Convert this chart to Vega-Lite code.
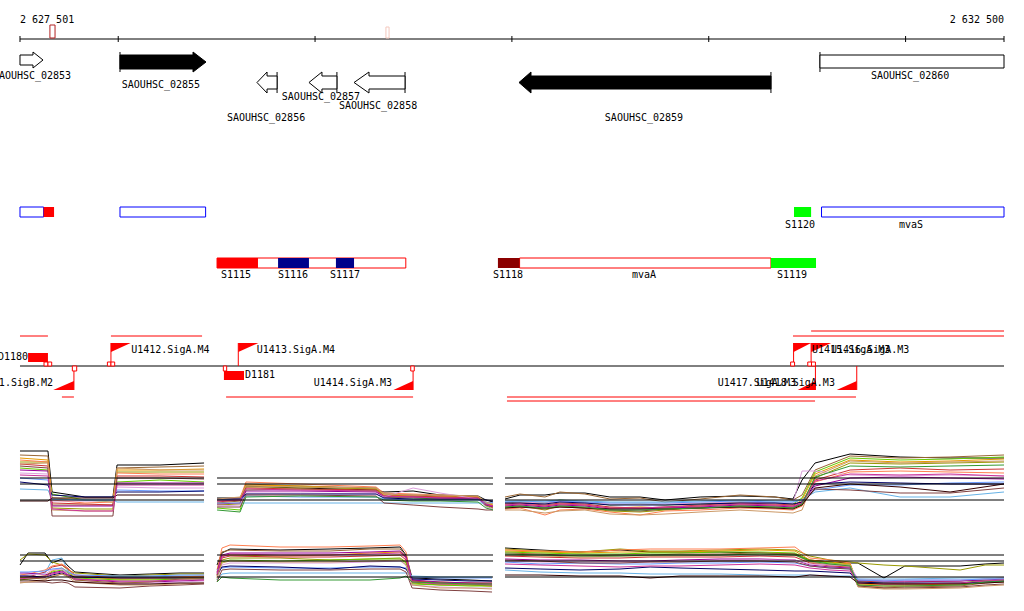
{
"$schema": "https://vega.github.io/schema/vega-lite/v6.json",
"width": 1024, "height": 611, "padding": 0,
"autosize": {"type": "fit", "contains": "padding"},
"background": "white",
"config": {"view": {"stroke": null}},
"datasets": {
"r1p1": [
{"s":"s1","2627501":7.9,"2627643":7.9,"2627664":3.8,"2627831":3.3,"2627973":3.3,"2627994":6.5,"2628212":6.5,"2628436":6.7},
{"s":"s2","2627501":7.5,"2627643":7.4,"2627664":2.5,"2627831":2.5,"2627973":2.5,"2627994":6.2,"2628212":6.3,"2628436":6.4},
{"s":"s3","2627501":7.2,"2627643":7.0,"2627664":3.2,"2627831":3.0,"2627973":3.0,"2627994":6.0,"2628212":6.0,"2628436":6.1},
{"s":"s4","2627501":6.8,"2627643":6.8,"2627664":2.2,"2627831":2.1,"2627973":2.1,"2627994":5.8,"2628212":5.8,"2628436":5.8},
{"s":"s5","2627501":6.2,"2627643":6.0,"2627664":3.6,"2627831":3.0,"2627973":2.8,"2627994":4.8,"2628212":5.0,"2628436":4.8},
{"s":"s6","2627501":6.6,"2627643":6.4,"2627664":2.7,"2627831":2.6,"2627973":2.5,"2627994":5.4,"2628212":5.4,"2628436":5.3},
{"s":"s7","2627501":7.0,"2627643":6.8,"2627664":3.0,"2627831":2.7,"2627973":2.8,"2627994":5.7,"2628212":5.6,"2628436":5.6},
{"s":"s8","2627501":6.0,"2627643":5.9,"2627664":2.4,"2627831":2.4,"2627973":2.4,"2627994":4.7,"2628212":4.7,"2628436":4.7},
{"s":"s9","2627501":5.7,"2627643":5.6,"2627664":2.9,"2627831":2.9,"2627973":2.9,"2627994":4.3,"2628212":4.2,"2628436":4.2},
{"s":"s10","2627501":5.2,"2627643":5.0,"2627664":3.1,"2627831":3.0,"2627973":3.0,"2627994":4.0,"2628212":3.9,"2628436":3.9},
{"s":"s11","2627501":4.8,"2627643":4.5,"2627664":3.5,"2627831":3.3,"2627973":3.3,"2627994":3.8,"2628212":3.8,"2628436":3.9},
{"s":"s12","2627501":4.1,"2627643":4.0,"2627664":3.1,"2627831":3.0,"2627973":3.0,"2627994":2.8,"2628212":2.8,"2628436":2.8},
{"s":"s13","2627501":6.4,"2627643":6.2,"2627664":1.4,"2627831":1.4,"2627973":1.4,"2627994":5.2,"2628212":5.2,"2628436":5.1},
{"s":"s14","2627501":6.6,"2627643":6.7,"2627664":2.0,"2627831":1.9,"2627973":1.9,"2627994":6.2,"2628212":6.0,"2628436":6.0},
{"s":"s15","2627501":2.9,"2627643":2.9,"2627664":3.2,"2627831":3.2,"2627973":3.2,"2627994":3.5,"2628212":3.5,"2628436":3.5},
{"s":"s16","2627501":5.5,"2627643":5.4,"2627664":2.1,"2627831":1.9,"2627973":1.9,"2627994":4.5,"2628212":4.5,"2628436":4.5}
],
"r1p2": [
{"s":"s1","2628502":3.2,"2628619":3.2,"2628649":4.4,"2628924":4.2,"2629310":4.0,"2629350":3.8,"2629498":3.9,"2629635":3.5,"2629828":3.4,"2629868":3.0,"2629904":2.8},
{"s":"s7","2628502":3.0,"2628619":3.2,"2628649":4.8,"2628924":4.6,"2629310":4.3,"2629350":3.7,"2629498":3.6,"2629635":3.5,"2629828":3.3,"2629868":2.5,"2629904":2.3},
{"s":"s2","2628502":2.7,"2628619":2.9,"2628649":4.6,"2628924":4.4,"2629310":4.2,"2629350":3.6,"2629498":3.5,"2629635":3.4,"2629828":3.3,"2629868":2.6,"2629904":2.4},
{"s":"s3","2628502":3.0,"2628619":3.1,"2628649":4.5,"2628924":4.4,"2629310":4.1,"2629350":3.5,"2629498":3.4,"2629635":3.3,"2629828":3.3,"2629868":2.7,"2629904":2.5},
{"s":"s4","2628502":2.5,"2628619":2.6,"2628649":4.3,"2628924":4.3,"2629310":4.1,"2629350":3.4,"2629498":3.3,"2629635":3.2,"2629828":3.2,"2629868":2.5,"2629904":2.2},
{"s":"s5","2628502":2.2,"2628619":2.0,"2628649":4.0,"2628924":4.1,"2629310":3.9,"2629350":3.3,"2629498":3.2,"2629635":3.1,"2629828":3.1,"2629868":2.4,"2629904":2.1},
{"s":"s6","2628502":2.8,"2628619":3.0,"2628649":4.2,"2628924":4.1,"2629310":4.0,"2629350":3.4,"2629498":3.4,"2629635":3.3,"2629828":3.2,"2629868":2.6,"2629904":2.4},
{"s":"s8","2628502":2.6,"2628619":2.7,"2628649":3.9,"2628924":3.9,"2629310":3.8,"2629350":3.3,"2629498":3.3,"2629635":3.2,"2629828":3.1,"2629868":2.5,"2629904":2.3},
{"s":"s9","2628502":2.4,"2628619":2.5,"2628649":3.7,"2628924":3.7,"2629310":3.6,"2629350":3.3,"2629498":4.2,"2629635":3.7,"2629828":3.1,"2629868":2.3,"2629904":2.1},
{"s":"s10","2628502":3.0,"2628619":3.1,"2628649":3.4,"2628924":3.3,"2629310":3.3,"2629350":3.1,"2629498":3.0,"2629635":3.0,"2629828":3.0,"2629868":2.8,"2629904":2.7},
{"s":"s11","2628502":3.1,"2628619":3.1,"2628649":3.6,"2628924":3.6,"2629310":3.6,"2629350":3.2,"2629498":3.1,"2629635":3.1,"2629828":3.1,"2629868":3.0,"2629904":2.9},
{"s":"s12","2628502":2.7,"2628619":2.7,"2628649":2.7,"2628924":2.7,"2629310":2.7,"2629350":2.7,"2629498":2.7,"2629635":2.7,"2629828":2.7,"2629868":2.7,"2629904":2.7},
{"s":"s13","2628502":2.3,"2628619":2.3,"2628649":3.5,"2628924":3.5,"2629310":3.4,"2629350":2.7,"2629498":2.5,"2629635":2.3,"2629828":2.1,"2629868":2.0,"2629904":2.0},
{"s":"s14","2628502":3.1,"2628619":3.3,"2628649":4.4,"2628924":4.3,"2629310":4.2,"2629350":3.6,"2629498":3.5,"2629635":3.5,"2629828":3.4,"2629868":2.8,"2629904":2.6},
{"s":"s16","2628502":2.9,"2628619":3.0,"2628649":4.1,"2628924":4.0,"2629310":3.9,"2629350":3.4,"2629498":3.3,"2629635":3.2,"2629828":3.2,"2629868":2.6,"2629904":2.4},
{"s":"s17","2628502":2.0,"2628619":1.8,"2628649":3.3,"2628924":3.4,"2629310":3.3,"2629350":3.0,"2629498":2.9,"2629635":2.9,"2629828":2.8,"2629868":2.2,"2629904":2.0}
],
"r1p3": [
{"s":"s1","2629965":3.1,"2630041":3.5,"2630168":3.5,"2630244":3.7,"2630371":3.7,"2630498":3.3,"2630651":3.3,"2630778":3.0,"2630956":3.3,"2631159":3.4,"2631337":3.3,"2631428":3.1,"2631474":5.0,"2631540":6.7,"2631718":7.6,"2631972":7.3,"2632226":7.2,"2632500":7.2},
{"s":"s2","2629965":3.3,"2630041":3.6,"2630168":3.3,"2630244":3.8,"2630371":3.6,"2630498":3.1,"2630651":3.2,"2630778":2.8,"2630956":3.1,"2631159":3.5,"2631337":3.3,"2631428":3.0,"2631474":3.5,"2631540":6.0,"2631718":7.4,"2631972":7.2,"2632226":7.3,"2632500":7.5},
{"s":"s5","2629965":2.7,"2630041":2.8,"2630168":2.7,"2630244":3.0,"2630371":2.8,"2630498":2.5,"2630651":2.6,"2630778":2.5,"2630956":2.6,"2631159":2.8,"2631337":2.7,"2631428":2.6,"2631474":3.2,"2631540":5.8,"2631718":7.2,"2631972":7.0,"2632226":7.1,"2632500":7.3},
{"s":"s3","2629965":2.5,"2630041":2.6,"2630168":2.4,"2630244":2.6,"2630371":2.5,"2630498":2.2,"2630651":2.3,"2630778":2.2,"2630956":2.4,"2631159":2.6,"2631337":2.5,"2631428":2.4,"2631474":3.0,"2631540":5.6,"2631718":7.0,"2631972":6.8,"2632226":6.9,"2632500":7.1},
{"s":"s4","2629965":2.3,"2630041":2.4,"2630168":2.0,"2630244":2.4,"2630371":2.2,"2630498":1.9,"2630651":1.8,"2630778":2.0,"2630956":2.2,"2631159":2.4,"2631337":2.3,"2631428":2.2,"2631474":2.5,"2631540":5.2,"2631718":6.7,"2631972":6.6,"2632226":6.7,"2632500":6.8},
{"s":"s6","2629965":2.6,"2630041":2.7,"2630168":2.5,"2630244":2.7,"2630371":2.6,"2630498":2.3,"2630651":2.2,"2630778":2.3,"2630956":2.5,"2631159":2.7,"2631337":2.6,"2631428":2.5,"2631474":2.8,"2631540":5.0,"2631718":6.0,"2631972":6.2,"2632226":6.0,"2632500":6.1},
{"s":"s7","2629965":2.1,"2630041":2.2,"2630168":1.5,"2630244":2.0,"2630371":2.1,"2630498":1.8,"2630651":1.5,"2630778":1.9,"2630956":2.0,"2631159":2.2,"2631337":2.1,"2631428":2.0,"2631474":2.4,"2631540":4.8,"2631718":5.8,"2631972":5.9,"2632226":5.8,"2632500":5.7},
{"s":"s8","2629965":2.4,"2630041":2.5,"2630168":2.3,"2630244":2.5,"2630371":2.4,"2630498":2.1,"2630651":2.1,"2630778":2.2,"2630956":2.3,"2631159":2.5,"2631337":2.4,"2631428":2.3,"2631474":2.7,"2631540":4.4,"2631718":5.2,"2631972":5.3,"2632226":5.2,"2632500":5.1},
{"s":"s9","2629965":2.8,"2630041":2.8,"2630168":2.7,"2630244":2.9,"2630371":2.8,"2630498":2.6,"2630651":2.6,"2630778":2.6,"2630956":2.7,"2631159":2.8,"2631337":2.7,"2631428":2.7,"2631474":5.9,"2631540":5.9,"2631718":5.5,"2631972":5.4,"2632226":5.5,"2632500":5.4},
{"s":"s10","2629965":2.8,"2630041":2.9,"2630168":2.8,"2630244":2.9,"2630371":2.8,"2630498":2.7,"2630651":2.7,"2630778":2.7,"2630956":2.8,"2631159":2.9,"2631337":2.8,"2631428":2.8,"2631474":3.0,"2631540":4.0,"2631718":4.5,"2631972":4.5,"2632226":4.7,"2632500":4.8},
{"s":"s11","2629965":2.7,"2630041":2.7,"2630168":2.6,"2630244":2.8,"2630371":2.7,"2630498":2.5,"2630651":2.5,"2630778":2.5,"2630956":2.6,"2631159":2.7,"2631337":2.7,"2631428":2.6,"2631474":2.8,"2631540":4.6,"2631718":4.8,"2631972":4.7,"2632226":4.6,"2632500":4.6},
{"s":"s12","2629965":2.9,"2630041":2.9,"2630168":2.9,"2630244":3.0,"2630371":2.9,"2630498":2.8,"2630651":2.8,"2630778":2.8,"2630956":2.9,"2631159":3.0,"2631337":2.9,"2631428":2.9,"2631474":3.0,"2631540":3.8,"2631718":4.2,"2631972":3.3,"2632226":3.3,"2632500":3.8},
{"s":"s13","2629965":2.2,"2630041":2.3,"2630168":2.1,"2630244":2.3,"2630371":2.2,"2630498":2.0,"2630651":1.9,"2630778":2.1,"2630956":2.2,"2631159":2.3,"2631337":2.2,"2631428":2.2,"2631474":2.6,"2631540":4.1,"2631718":4.0,"2631972":3.7,"2632226":3.7,"2632500":4.2},
{"s":"s14","2629965":2.0,"2630041":2.0,"2630168":1.7,"2630244":1.9,"2630371":2.0,"2630498":1.6,"2630651":1.5,"2630778":1.6,"2630956":1.8,"2631159":2.0,"2631337":1.8,"2631428":1.7,"2631474":2.0,"2631540":5.4,"2631718":6.9,"2631972":6.7,"2632226":6.8,"2632500":6.9},
{"s":"s16","2629965":2.5,"2630041":2.6,"2630168":2.4,"2630244":2.6,"2630371":2.5,"2630498":2.2,"2630651":2.2,"2630778":2.3,"2630956":2.4,"2631159":2.6,"2631337":2.5,"2631428":2.4,"2631474":2.7,"2631540":4.9,"2631718":5.6,"2631972":5.5,"2632226":5.6,"2632500":5.4},
{"s":"s15","2629965":2.2,"2630041":2.3,"2630168":2.2,"2630244":2.3,"2630371":2.2,"2630498":2.1,"2630651":2.1,"2630778":2.1,"2630956":2.2,"2631159":2.3,"2631337":2.2,"2631428":2.1,"2631474":2.5,"2631540":4.2,"2631718":4.6,"2631972":4.3,"2632226":3.8,"2632500":4.6},
{"s":"s17","2629965":2.3,"2630041":2.4,"2630168":2.2,"2630244":2.4,"2630371":2.3,"2630498":2.0,"2630651":2.0,"2630778":2.1,"2630956":2.2,"2631159":2.4,"2631337":2.3,"2631428":2.2,"2631474":2.6,"2631540":5.3,"2631718":6.4,"2631972":6.3,"2632226":6.4,"2632500":6.5}
],
"r2p1": [
{"s":"s1","2627501":4.2,"2627542":5.4,"2627628":5.4,"2627664":4.4,"2627714":4.8,"2627745":4.1,"2627780":3.5,"2628009":3.2,"2628161":3.3,"2628314":3.4,"2628436":3.4},
{"s":"s4","2627501":4.7,"2627542":5.3,"2627628":5.2,"2627664":4.5,"2627714":4.2,"2627745":3.7,"2627780":3.4,"2628009":3.1,"2628161":3.2,"2628314":3.3,"2628436":3.3},
{"s":"s12","2627501":3.2,"2627542":3.3,"2627628":3.4,"2627664":4.7,"2627714":4.9,"2627745":3.6,"2627780":3.1,"2628009":3.0,"2628161":3.0,"2628314":3.1,"2628436":3.1},
{"s":"s6","2627501":2.9,"2627542":3.0,"2627628":3.5,"2627664":4.0,"2627714":4.2,"2627745":3.8,"2627780":3.2,"2628009":2.9,"2628161":2.9,"2628314":3.0,"2628436":3.0},
{"s":"s7","2627501":3.2,"2627542":3.3,"2627628":3.7,"2627664":4.1,"2627714":4.3,"2627745":3.9,"2627780":3.1,"2628009":2.8,"2628161":2.9,"2628314":3.0,"2628436":3.1},
{"s":"s3","2627501":2.9,"2627542":3.0,"2627628":3.1,"2627664":3.6,"2627714":3.9,"2627745":3.5,"2627780":3.0,"2628009":2.8,"2628161":2.8,"2628314":2.9,"2628436":3.0},
{"s":"s5","2627501":2.7,"2627542":2.8,"2627628":3.0,"2627664":3.5,"2627714":3.7,"2627745":3.4,"2627780":2.9,"2628009":2.7,"2628161":2.7,"2628314":2.8,"2628436":2.8},
{"s":"s8","2627501":3.4,"2627542":3.4,"2627628":3.2,"2627664":3.4,"2627714":3.6,"2627745":3.3,"2627780":2.8,"2628009":2.5,"2628161":2.5,"2628314":2.6,"2628436":2.7},
{"s":"s9","2627501":3.1,"2627542":3.2,"2627628":3.3,"2627664":3.7,"2627714":3.8,"2627745":3.3,"2627780":2.7,"2628009":2.3,"2628161":2.4,"2628314":2.5,"2628436":2.6},
{"s":"s10","2627501":3.5,"2627542":3.5,"2627628":3.6,"2627664":3.8,"2627714":3.9,"2627745":3.5,"2627780":3.2,"2628009":3.1,"2628161":3.1,"2628314":3.2,"2628436":3.2},
{"s":"s11","2627501":3.1,"2627542":3.1,"2627628":3.0,"2627664":3.2,"2627714":3.4,"2627745":3.2,"2627780":3.0,"2628009":2.9,"2628161":2.9,"2628314":2.9,"2628436":2.9},
{"s":"s13","2627501":2.5,"2627542":2.5,"2627628":2.5,"2627664":2.4,"2627714":2.5,"2627745":2.4,"2627780":2.0,"2628009":1.9,"2628161":2.1,"2628314":2.2,"2628436":2.3},
{"s":"s2","2627501":2.9,"2627542":2.9,"2627628":2.8,"2627664":3.0,"2627714":3.3,"2627745":3.1,"2627780":2.7,"2628009":2.4,"2628161":2.5,"2628314":2.8,"2628436":2.9},
{"s":"s14","2627501":2.4,"2627542":2.5,"2627628":2.7,"2627664":3.1,"2627714":3.3,"2627745":3.0,"2627780":2.5,"2628009":2.2,"2628161":2.2,"2628314":2.3,"2628436":2.4},
{"s":"s16","2627501":2.8,"2627542":2.9,"2627628":3.0,"2627664":3.3,"2627714":3.5,"2627745":3.2,"2627780":2.8,"2628009":2.6,"2628161":2.6,"2628314":2.7,"2628436":2.7},
{"s":"s15","2627501":2.7,"2627542":2.7,"2627628":2.6,"2627664":2.7,"2627714":2.7,"2627745":2.6,"2627780":2.5,"2628009":2.3,"2628161":2.3,"2628314":2.4,"2628436":2.4}
],
"r2p2": [
{"s":"s1","2628502":4.2,"2628527":5.4,"2628568":5.8,"2628822":5.7,"2629076":5.8,"2629279":5.9,"2629432":6.0,"2629462":5.2,"2629493":2.9,"2629635":2.8,"2629787":2.7,"2629899":2.6},
{"s":"s7","2628502":3.7,"2628527":5.9,"2628568":6.2,"2628822":6.0,"2629076":6.0,"2629279":6.1,"2629432":6.2,"2629462":5.5,"2629493":2.5,"2629635":2.3,"2629787":2.2,"2629899":2.1},
{"s":"s2","2628502":3.5,"2628527":5.5,"2628568":5.7,"2628822":5.6,"2629076":5.6,"2629279":5.8,"2629432":5.8,"2629462":5.1,"2629493":2.7,"2629635":2.4,"2629787":2.3,"2629899":2.2},
{"s":"s3","2628502":3.2,"2628527":5.1,"2628568":5.2,"2628822":5.1,"2629076":5.2,"2629279":5.4,"2629432":5.5,"2629462":4.9,"2629493":2.6,"2629635":2.5,"2629787":2.4,"2629899":2.4},
{"s":"s4","2628502":2.9,"2628527":4.7,"2628568":4.9,"2628822":4.9,"2629076":4.7,"2629279":4.8,"2629432":4.9,"2629462":4.5,"2629493":2.4,"2629635":2.2,"2629787":2.2,"2629899":2.1},
{"s":"s5","2628502":2.7,"2628527":4.5,"2628568":4.7,"2628822":4.6,"2629076":4.7,"2629279":4.8,"2629432":4.8,"2629462":4.4,"2629493":2.3,"2629635":2.2,"2629787":2.1,"2629899":2.1},
{"s":"s6","2628502":3.1,"2628527":4.9,"2628568":5.1,"2628822":5.0,"2629076":5.0,"2629279":5.1,"2629432":5.2,"2629462":4.7,"2629493":2.6,"2629635":2.4,"2629787":2.4,"2629899":2.3},
{"s":"s8","2628502":3.4,"2628527":5.2,"2628568":5.4,"2628822":5.4,"2629076":5.4,"2629279":5.5,"2629432":5.6,"2629462":5.0,"2629493":2.7,"2629635":2.5,"2629787":2.4,"2629899":2.4},
{"s":"s9","2628502":2.8,"2628527":4.2,"2628568":4.4,"2628822":4.4,"2629076":4.4,"2629279":4.5,"2629432":4.6,"2629462":4.2,"2629493":2.2,"2629635":2.0,"2629787":1.9,"2629899":1.9},
{"s":"s10","2628502":3.7,"2628527":3.9,"2628568":4.0,"2628822":3.9,"2629076":3.9,"2629279":4.0,"2629432":4.0,"2629462":3.9,"2629493":3.0,"2629635":2.9,"2629787":2.9,"2629899":2.9},
{"s":"s11","2628502":3.2,"2628527":4.0,"2628568":4.1,"2628822":4.0,"2629076":3.8,"2629279":4.1,"2629432":4.0,"2629462":3.8,"2629493":2.8,"2629635":2.7,"2629787":2.6,"2629899":2.6},
{"s":"s12","2628502":2.7,"2628527":3.3,"2628568":3.4,"2628822":3.4,"2629076":3.4,"2629279":3.4,"2629432":3.4,"2629462":3.4,"2629493":3.1,"2629635":3.0,"2629787":3.0,"2629899":3.0},
{"s":"s13","2628502":2.5,"2628527":3.7,"2628568":3.8,"2628822":3.7,"2629076":3.7,"2629279":3.8,"2629432":3.8,"2629462":3.5,"2629493":1.9,"2629635":1.7,"2629787":1.6,"2629899":1.5},
{"s":"s14","2628502":3.0,"2628527":4.4,"2628568":4.6,"2628822":4.5,"2629076":4.5,"2629279":4.6,"2629432":4.7,"2629462":4.2,"2629493":2.2,"2629635":1.9,"2629787":1.9,"2629899":1.8},
{"s":"s16","2628502":3.3,"2628527":5.0,"2628568":5.3,"2628822":5.2,"2629076":5.2,"2629279":5.3,"2629432":5.4,"2629462":4.9,"2629493":2.5,"2629635":2.3,"2629787":2.3,"2629899":2.2},
{"s":"s17","2628502":2.5,"2628527":3.0,"2628568":2.9,"2628822":2.7,"2629076":2.7,"2629279":2.7,"2629432":2.9,"2629462":3.1,"2629493":2.5,"2629635":2.4,"2629787":2.3,"2629899":2.3}
],
"r2p3": [
{"s":"s1","2629965":5.9,"2630143":5.7,"2630346":5.5,"2630549":5.7,"2630702":5.5,"2630854":5.5,"2631057":5.5,"2631260":5.4,"2631438":5.3,"2631514":4.7,"2631616":4.5,"2631718":4.4,"2631758":4.4,"2631890":2.9,"2631996":4.1,"2632277":4.1,"2632404":4.3,"2632500":4.4},
{"s":"s4","2629965":5.8,"2630143":5.6,"2630346":5.5,"2630549":5.8,"2630702":5.6,"2630854":5.6,"2631057":5.7,"2631260":5.8,"2631438":5.7,"2631514":5.1,"2631616":4.7,"2631718":4.5,"2631758":4.4,"2631890":4.2,"2631996":4.1,"2632277":3.7,"2632404":4.2,"2632500":4.2},
{"s":"s7","2629965":5.7,"2630143":5.6,"2630346":5.5,"2630549":5.7,"2630702":5.8,"2630854":5.8,"2631057":5.8,"2631260":5.9,"2631438":6.0,"2631514":4.9,"2631616":4.7,"2631718":4.4,"2631758":2.2,"2631890":2.0,"2631996":2.1,"2632277":2.2,"2632404":2.5,"2632500":2.6},
{"s":"s3","2629965":5.6,"2630143":5.5,"2630346":5.4,"2630549":5.5,"2630702":5.5,"2630854":5.5,"2631057":5.6,"2631260":5.7,"2631438":5.6,"2631514":4.7,"2631616":4.5,"2631718":4.3,"2631758":2.3,"2631890":2.2,"2631996":2.2,"2632277":2.3,"2632404":2.6,"2632500":2.7},
{"s":"s5","2629965":5.5,"2630143":5.4,"2630346":5.3,"2630549":5.3,"2630702":5.4,"2630854":5.4,"2631057":5.5,"2631260":5.5,"2631438":5.4,"2631514":4.6,"2631616":4.4,"2631718":4.2,"2631758":2.5,"2631890":2.4,"2631996":2.3,"2632277":2.4,"2632404":2.7,"2632500":2.8},
{"s":"s2","2629965":5.4,"2630143":5.3,"2630346":5.1,"2630549":5.2,"2630702":5.2,"2630854":5.3,"2631057":5.3,"2631260":5.4,"2631438":5.3,"2631514":4.5,"2631616":4.2,"2631718":4.1,"2631758":2.1,"2631890":1.9,"2631996":2.0,"2632277":2.1,"2632404":2.4,"2632500":2.5},
{"s":"s6","2629965":5.1,"2630143":5.0,"2630346":4.9,"2630549":4.9,"2630702":5.0,"2630854":5.0,"2631057":5.0,"2631260":5.1,"2631438":5.0,"2631514":4.4,"2631616":4.1,"2631718":4.0,"2631758":2.6,"2631890":2.5,"2631996":2.5,"2632277":2.6,"2632404":2.8,"2632500":2.9},
{"s":"s8","2629965":4.8,"2630143":4.7,"2630346":4.7,"2630549":4.6,"2630702":4.6,"2630854":4.7,"2631057":4.8,"2631260":4.8,"2631438":4.7,"2631514":4.2,"2631616":4.0,"2631718":3.9,"2631758":2.7,"2631890":2.6,"2631996":2.6,"2632277":2.6,"2632404":2.7,"2632500":2.8},
{"s":"s9","2629965":4.6,"2630143":4.5,"2630346":4.5,"2630549":4.5,"2630702":4.5,"2630854":4.6,"2631057":4.6,"2631260":4.7,"2631438":4.7,"2631514":4.3,"2631616":4.2,"2631718":4.1,"2631758":2.8,"2631890":2.7,"2631996":2.7,"2632277":2.7,"2632404":2.8,"2632500":2.9},
{"s":"s10","2629965":4.5,"2630143":4.3,"2630346":4.4,"2630549":4.3,"2630702":4.3,"2630854":4.4,"2631057":4.4,"2631260":4.5,"2631438":4.4,"2631514":4.1,"2631616":3.9,"2631718":3.8,"2631758":2.7,"2631890":2.6,"2631996":2.7,"2632277":2.7,"2632404":2.8,"2632500":2.8},
{"s":"s11","2629965":3.9,"2630143":3.8,"2630346":3.7,"2630549":3.8,"2630702":4.0,"2630854":3.9,"2631057":3.8,"2631260":3.7,"2631438":3.6,"2631514":3.6,"2631616":3.5,"2631718":3.4,"2631758":2.5,"2631890":2.4,"2631996":2.4,"2632277":2.4,"2632404":2.5,"2632500":2.6},
{"s":"s12","2629965":3.7,"2630143":3.5,"2630346":3.4,"2630549":3.4,"2630702":3.3,"2630854":3.3,"2631057":3.3,"2631260":3.2,"2631438":3.2,"2631514":3.2,"2631616":3.1,"2631718":3.1,"2631758":2.8,"2631890":2.8,"2631996":2.8,"2632277":2.9,"2632404":2.9,"2632500":2.9},
{"s":"s13","2629965":4.7,"2630143":4.6,"2630346":4.4,"2630549":4.4,"2630702":4.5,"2630854":4.5,"2631057":4.6,"2631260":4.6,"2631438":4.5,"2631514":4.1,"2631616":3.9,"2631718":3.8,"2631758":2.1,"2631890":1.9,"2631996":1.9,"2632277":2.0,"2632404":2.2,"2632500":2.3},
{"s":"s14","2629965":5.2,"2630143":5.1,"2630346":5.0,"2630549":5.1,"2630702":5.1,"2630854":5.1,"2631057":5.2,"2631260":5.3,"2631438":5.2,"2631514":4.5,"2631616":4.3,"2631718":4.2,"2631758":2.0,"2631890":1.8,"2631996":1.8,"2632277":1.9,"2632404":2.1,"2632500":2.2},
{"s":"s16","2629965":4.3,"2630143":4.2,"2630346":4.1,"2630549":4.0,"2630702":4.1,"2630854":4.1,"2631057":4.2,"2631260":4.3,"2631438":4.2,"2631514":3.9,"2631616":3.7,"2631718":3.6,"2631758":2.4,"2631890":2.3,"2631996":2.3,"2632277":2.4,"2632404":2.6,"2632500":2.7},
{"s":"s15","2629965":3.2,"2630143":3.2,"2630346":3.1,"2630549":3.1,"2630702":2.9,"2630854":3.1,"2631057":3.1,"2631260":3.1,"2631438":3.0,"2631514":3.2,"2631616":3.1,"2631718":3.0,"2631758":2.4,"2631890":2.3,"2631996":2.3,"2632277":2.3,"2632404":2.4,"2632500":2.5},
{"s":"s17","2629965":5.3,"2630143":5.2,"2630346":5.1,"2630549":5.1,"2630702":5.2,"2630854":5.2,"2631057":5.2,"2631260":5.3,"2631438":5.2,"2631514":4.6,"2631616":4.3,"2631718":4.1,"2631758":2.2,"2631890":2.1,"2631996":2.1,"2632277":2.2,"2632404":2.5,"2632500":2.6}
],
"refs": [
{"pos":2627501,"end":2628436,"lev":5.2},{"pos":2627501,"end":2628436,"lev":4.6},{"pos":2627501,"end":2628436,"lev":3.0},
{"pos":2628502,"end":2629904,"lev":5.2},{"pos":2628502,"end":2629904,"lev":4.6},{"pos":2628502,"end":2629904,"lev":3.0},
{"pos":2629965,"end":2632500,"lev":5.2},{"pos":2629965,"end":2632500,"lev":4.6},{"pos":2629965,"end":2632500,"lev":3.0}
]
},
"encoding": {
"x": {"field": "pos", "type": "quantitative", "scale": {"domain": [2627399.4, 2632601.6], "nice": false, "zero": false}, "axis": null}
},
"layer": [
{
"encoding": {"y": {"field": "lane", "type": "quantitative", "stack": null, "scale": {"domain": [0, 611], "range": [0, 611], "nice": false, "zero": false}, "axis": null}},
"layer": [
{"data": {"values": [{"pos":2627501,"end":2632500,"lane":39},{"pos":2627501,"end":2632500,"lane":366}]},
 "mark": {"type": "rule", "color": "black", "strokeWidth": 1},
 "encoding": {"x2": {"field": "end"}}},
{"data": {"values": [
 {"pos":2627501,"lane":36,"lane2":42},{"pos":2628000,"lane":36,"lane2":42},{"pos":2629000,"lane":36,"lane2":42},{"pos":2630000,"lane":36,"lane2":42},{"pos":2631000,"lane":36,"lane2":42},{"pos":2632000,"lane":36,"lane2":42},{"pos":2632500,"lane":36,"lane2":42},
 {"pos":2628009,"lane":52,"lane2":72},{"pos":2628807,"lane":72,"lane2":93},{"pos":2629111,"lane":72,"lane2":93},{"pos":2629457,"lane":72,"lane2":93},{"pos":2631316,"lane":72,"lane2":93},{"pos":2631565,"lane":52,"lane2":72}]},
 "mark": {"type": "rule", "color": "black", "strokeWidth": 1},
 "encoding": {"y2": {"field": "lane2"}}},
{"data": {"values": [{"pos":2627653,"end":2627679,"lane":25,"lane2":38}]},
 "mark": {"type": "rect", "fill": "white", "stroke": "#B22222", "strokeWidth": 1},
 "encoding": {"x2": {"field": "end"}, "y2": {"field": "lane2"}}},
{"data": {"values": [{"pos":2629360,"end":2629376,"lane":27,"lane2":38}]},
 "mark": {"type": "rect", "fill": "white", "stroke": "#F4C8BE", "strokeWidth": 1},
 "encoding": {"x2": {"field": "end"}, "y2": {"field": "lane2"}}},
{"data": {"values": [
 {"gene":"02853","pos":2627501,"lane":55,"lane2":65},{"gene":"02853","pos":2627567,"lane":55,"lane2":65},{"gene":"02853","pos":2627567,"lane":52,"lane2":68},{"gene":"02853","pos":2627618,"lane":60,"lane2":60},
 {"gene":"02856","pos":2628705,"lane":82.5,"lane2":82.5},{"gene":"02856","pos":2628756,"lane":72,"lane2":93},{"gene":"02856","pos":2628756,"lane":76,"lane2":89},{"gene":"02856","pos":2628807,"lane":76,"lane2":89},
 {"gene":"02857","pos":2628969,"lane":82.5,"lane2":82.5},{"gene":"02857","pos":2629035,"lane":72,"lane2":93},{"gene":"02857","pos":2629035,"lane":76,"lane2":89},{"gene":"02857","pos":2629111,"lane":76,"lane2":89},
 {"gene":"02858","pos":2629198,"lane":82.5,"lane2":82.5},{"gene":"02858","pos":2629274,"lane":72,"lane2":93},{"gene":"02858","pos":2629274,"lane":76,"lane2":89},{"gene":"02858","pos":2629457,"lane":76,"lane2":89},
 {"gene":"02860","pos":2631565,"lane":55,"lane2":68},{"gene":"02860","pos":2632500,"lane":55,"lane2":68}]},
 "mark": {"type": "area", "fill": "white", "stroke": "black", "strokeWidth": 1},
 "encoding": {"y2": {"field": "lane2"}, "detail": {"field": "gene"}}},
{"data": {"values": [
 {"gene":"02855","pos":2628009,"lane":55,"lane2":69},{"gene":"02855","pos":2628380,"lane":55,"lane2":69},{"gene":"02855","pos":2628380,"lane":52,"lane2":72},{"gene":"02855","pos":2628446,"lane":62,"lane2":62},
 {"gene":"02859","pos":2630036,"lane":82.5,"lane2":82.5},{"gene":"02859","pos":2630097,"lane":72,"lane2":93},{"gene":"02859","pos":2630097,"lane":76,"lane2":89},{"gene":"02859","pos":2631316,"lane":76,"lane2":89}]},
 "mark": {"type": "area", "fill": "black", "stroke": "black", "strokeWidth": 1},
 "encoding": {"y2": {"field": "lane2"}, "detail": {"field": "gene"}}},
{"data": {"values": [{"pos":2627501,"end":2627621,"lane":207,"lane2":217},{"pos":2628009,"end":2628444,"lane":207,"lane2":217},{"pos":2631573,"end":2632500,"lane":207,"lane2":217}]},
 "mark": {"type": "rect", "fill": "white", "stroke": "#0000FF", "strokeWidth": 1},
 "encoding": {"x2": {"field": "end"}, "y2": {"field": "lane2"}}},
{"data": {"values": [{"pos":2628502,"end":2629461,"lane":258,"lane2":268},{"pos":2630039,"end":2631316,"lane":258,"lane2":268}]},
 "mark": {"type": "rect", "fill": "white", "stroke": "#FF0000", "strokeWidth": 1},
 "encoding": {"x2": {"field": "end"}, "y2": {"field": "lane2"}}},
{"data": {"values": [{"pos":2627621,"end":2627674,"lane":207,"lane2":217},{"pos":2628502,"end":2628710,"lane":258,"lane2":268},{"pos":2627542,"end":2627643,"lane":353,"lane2":362},{"pos":2628537,"end":2628639,"lane":371,"lane2":380}]},
 "mark": {"type": "rect", "fill": "#FF0000"},
 "encoding": {"x2": {"field": "end"}, "y2": {"field": "lane2"}}},
{"data": {"values": [{"pos":2631433,"end":2631520,"lane":207,"lane2":217},{"pos":2631316,"end":2631545,"lane":258,"lane2":268}]},
 "mark": {"type": "rect", "fill": "#00FF00"},
 "encoding": {"x2": {"field": "end"}, "y2": {"field": "lane2"}}},
{"data": {"values": [{"pos":2628812,"end":2628969,"lane":258,"lane2":268},{"pos":2629106,"end":2629198,"lane":258,"lane2":268}]},
 "mark": {"type": "rect", "fill": "#00008B"},
 "encoding": {"x2": {"field": "end"}, "y2": {"field": "lane2"}}},
{"data": {"values": [{"pos":2629929,"end":2630039,"lane":258,"lane2":268}]},
 "mark": {"type": "rect", "fill": "#8B0000"},
 "encoding": {"x2": {"field": "end"}, "y2": {"field": "lane2"}}},
{"data": {"values": [
 {"pos":2627501,"end":2627643,"lane":336},{"pos":2627963,"end":2628426,"lane":336},{"pos":2631520,"end":2632500,"lane":331},{"pos":2631428,"end":2632500,"lane":336},
 {"pos":2627714,"end":2627775,"lane":397},{"pos":2628548,"end":2629498,"lane":397},{"pos":2629975,"end":2631748,"lane":397},{"pos":2629975,"end":2631540,"lane":401}]},
 "mark": {"type": "rule", "color": "#FF0000", "strokeWidth": 1},
 "encoding": {"x2": {"field": "end"}}},
{"data": {"values": [
 {"pos":2627963,"lane":343,"lane2":362},{"pos":2628610,"lane":343,"lane2":366},{"pos":2631431,"lane":343,"lane2":362},{"pos":2631520,"lane":343,"lane2":362},
 {"pos":2627775,"lane":371,"lane2":390},{"pos":2629498,"lane":371,"lane2":390},{"pos":2631542,"lane":366,"lane2":390},{"pos":2631752,"lane":366,"lane2":390}]},
 "mark": {"type": "rule", "color": "#FF0000", "strokeWidth": 1},
 "encoding": {"y2": {"field": "lane2"}}},
{"data": {"values": [
 {"pos":2627623,"end":2627643,"lane":362,"lane2":366},{"pos":2627643,"end":2627662,"lane":362,"lane2":366},{"pos":2627945,"end":2627963,"lane":362,"lane2":366},{"pos":2627963,"end":2627982,"lane":362,"lane2":366},
 {"pos":2631416,"end":2631436,"lane":362,"lane2":366},{"pos":2631503,"end":2631522,"lane":362,"lane2":366},{"pos":2631522,"end":2631542,"lane":362,"lane2":366},
 {"pos":2627767,"end":2627789,"lane":366,"lane2":371},{"pos":2628534,"end":2628551,"lane":366,"lane2":371},{"pos":2629486,"end":2629504,"lane":366,"lane2":371}]},
 "mark": {"type": "rect", "fill": "white", "stroke": "#FF0000", "strokeWidth": 1},
 "encoding": {"x2": {"field": "end"}, "y2": {"field": "lane2"}}},
{"data": {"values": [
 {"flag":"U1412","pos":2627963,"lane":343,"lane2":352},{"flag":"U1412","pos":2628063,"lane":343,"lane2":343},
 {"flag":"U1413","pos":2628610,"lane":343,"lane2":352},{"flag":"U1413","pos":2628712,"lane":343,"lane2":343},
 {"flag":"U1415","pos":2631431,"lane":343,"lane2":352},{"flag":"U1415","pos":2631520,"lane":343,"lane2":343},
 {"flag":"U1416","pos":2631520,"lane":343,"lane2":352},{"flag":"U1416","pos":2631622,"lane":343,"lane2":343},
 {"flag":"U1411","pos":2627670,"lane":390,"lane2":390},{"flag":"U1411","pos":2627775,"lane":381,"lane2":390},
 {"flag":"U1414","pos":2629398,"lane":390,"lane2":390},{"flag":"U1414","pos":2629498,"lane":381,"lane2":390},
 {"flag":"U1417","pos":2631452,"lane":390,"lane2":390},{"flag":"U1417","pos":2631542,"lane":381,"lane2":390},
 {"flag":"U1418","pos":2631650,"lane":390,"lane2":390},{"flag":"U1418","pos":2631752,"lane":381,"lane2":390}]},
 "mark": {"type": "area", "fill": "#FF0000"},
 "encoding": {"y2": {"field": "lane2"}, "detail": {"field": "flag"}}},
{"data": {"values": [
 {"pos":2627562,"lane":76,"label":"SAOUHSC_02853"},{"pos":2628217,"lane":85,"label":"SAOUHSC_02855"},{"pos":2628751,"lane":118,"label":"SAOUHSC_02856"},
 {"pos":2629030,"lane":97,"label":"SAOUHSC_02857"},{"pos":2629320,"lane":106,"label":"SAOUHSC_02858"},{"pos":2630671,"lane":118,"label":"SAOUHSC_02859"},
 {"pos":2632023,"lane":76,"label":"SAOUHSC_02860"},{"pos":2631464,"lane":225,"label":"S1120"},{"pos":2632028,"lane":225,"label":"mvaS"},
 {"pos":2628598,"lane":275,"label":"S1115"},{"pos":2628888,"lane":275,"label":"S1116"},{"pos":2629152,"lane":275,"label":"S1117"},
 {"pos":2629980,"lane":275,"label":"S1118"},{"pos":2630671,"lane":275,"label":"mvaA"},{"pos":2631423,"lane":275,"label":"S1119"}]},
 "mark": {"type": "text", "align": "center", "baseline": "middle", "font": "DejaVu Sans Mono", "fontSize": 10, "color": "black", "clip": true},
 "encoding": {"text": {"field": "label"}}},
{"data": {"values": [
 {"pos":2627501,"lane":20,"label":"2 627 501"},{"pos":2628066,"lane":350,"label":"U1412.SigA.M4"},{"pos":2628704,"lane":350,"label":"U1413.SigA.M4"},
 {"pos":2628644,"lane":375,"label":"D1181"},{"pos":2631525,"lane":350,"label":"U1415.SigA.M3"},{"pos":2631621,"lane":350,"label":"U1416.SigA.M3"}]},
 "mark": {"type": "text", "align": "left", "baseline": "middle", "font": "DejaVu Sans Mono", "fontSize": 10, "color": "black", "clip": true},
 "encoding": {"text": {"field": "label"}}},
{"data": {"values": [
 {"pos":2632500,"lane":20,"label":"2 632 500"},{"pos":2627542,"lane":357,"label":"D1180"},{"pos":2627669,"lane":383,"label":"U1411.SigB.M2"},
 {"pos":2629391,"lane":383,"label":"U1414.SigA.M3"},{"pos":2631443,"lane":383,"label":"U1417.SigA.M3"},{"pos":2631641,"lane":383,"label":"U1418.SigA.M3"}]},
 "mark": {"type": "text", "align": "right", "baseline": "middle", "font": "DejaVu Sans Mono", "fontSize": 10, "color": "black", "clip": true},
 "encoding": {"text": {"field": "label"}}}
]
},
{
"layer": [
{"data": {"name": "r1p1"}, "transform": [{"fold": ["2627501","2627643","2627664","2627831","2627973","2627994","2628212","2628436"], "as": ["pos","v"]}],
 "mark": {"type": "line", "strokeWidth": 1},
 "encoding": {"y": {"field": "v", "type": "quantitative", "scale": {"domain": [0, 10], "range": [530, 430], "nice": false, "zero": false}, "axis": null},
  "color": {"field": "s", "type": "nominal", "legend": null, "scale": {"domain": ["s1","s2","s3","s4","s5","s6","s7","s8","s9","s10","s11","s12","s13","s14","s15","s16","s17"], "range": ["#000000","#996633","#E69900","#999900","#66CC00","#CC3333","#FF7F50","#990099","#DDA0DD","#6699FF","#000066","#66B2E6","#804040","#CC9966","#330000","#CC3399","#339933"]}}}},
{"data": {"name": "r1p2"}, "transform": [{"fold": ["2628502","2628619","2628649","2628924","2629310","2629350","2629498","2629635","2629828","2629868","2629904"], "as": ["pos","v"]}],
 "mark": {"type": "line", "strokeWidth": 1},
 "encoding": {"y": {"field": "v", "type": "quantitative", "scale": {"domain": [0, 10], "range": [530, 430], "nice": false, "zero": false}, "axis": null},
  "color": {"field": "s", "type": "nominal", "legend": null}}},
{"data": {"name": "r1p3"}, "transform": [{"fold": ["2629965","2630041","2630168","2630244","2630371","2630498","2630651","2630778","2630956","2631159","2631337","2631428","2631474","2631540","2631718","2631972","2632226","2632500"], "as": ["pos","v"]}],
 "mark": {"type": "line", "strokeWidth": 1},
 "encoding": {"y": {"field": "v", "type": "quantitative", "scale": {"domain": [0, 10], "range": [530, 430], "nice": false, "zero": false}, "axis": null},
  "color": {"field": "s", "type": "nominal", "legend": null}}},
{"data": {"name": "refs"},
 "mark": {"type": "rule", "color": "black", "strokeWidth": 1.2},
 "encoding": {"x2": {"field": "end"}, "y": {"field": "lev", "type": "quantitative", "scale": {"domain": [0, 10], "range": [530, 430], "nice": false, "zero": false}, "axis": null}}}
]
},
{
"layer": [
{"data": {"name": "r2p1"}, "transform": [{"fold": ["2627501","2627542","2627628","2627664","2627714","2627745","2627780","2628009","2628161","2628314","2628436"], "as": ["pos","v"]}],
 "mark": {"type": "line", "strokeWidth": 1},
 "encoding": {"y": {"field": "v", "type": "quantitative", "scale": {"domain": [0, 10], "range": [607, 507], "nice": false, "zero": false}, "axis": null},
  "color": {"field": "s", "type": "nominal", "legend": null}}},
{"data": {"name": "r2p2"}, "transform": [{"fold": ["2628502","2628527","2628568","2628822","2629076","2629279","2629432","2629462","2629493","2629635","2629787","2629899"], "as": ["pos","v"]}],
 "mark": {"type": "line", "strokeWidth": 1},
 "encoding": {"y": {"field": "v", "type": "quantitative", "scale": {"domain": [0, 10], "range": [607, 507], "nice": false, "zero": false}, "axis": null},
  "color": {"field": "s", "type": "nominal", "legend": null}}},
{"data": {"name": "r2p3"}, "transform": [{"fold": ["2629965","2630143","2630346","2630549","2630702","2630854","2631057","2631260","2631438","2631514","2631616","2631718","2631758","2631890","2631996","2632277","2632404","2632500"], "as": ["pos","v"]}],
 "mark": {"type": "line", "strokeWidth": 1},
 "encoding": {"y": {"field": "v", "type": "quantitative", "scale": {"domain": [0, 10], "range": [607, 507], "nice": false, "zero": false}, "axis": null},
  "color": {"field": "s", "type": "nominal", "legend": null}}},
{"data": {"name": "refs"},
 "mark": {"type": "rule", "color": "black", "strokeWidth": 1.2},
 "encoding": {"x2": {"field": "end"}, "y": {"field": "lev", "type": "quantitative", "scale": {"domain": [0, 10], "range": [607, 507], "nice": false, "zero": false}, "axis": null}}}
]
}
],
"resolve": {"scale": {"y": "independent"}}
}
